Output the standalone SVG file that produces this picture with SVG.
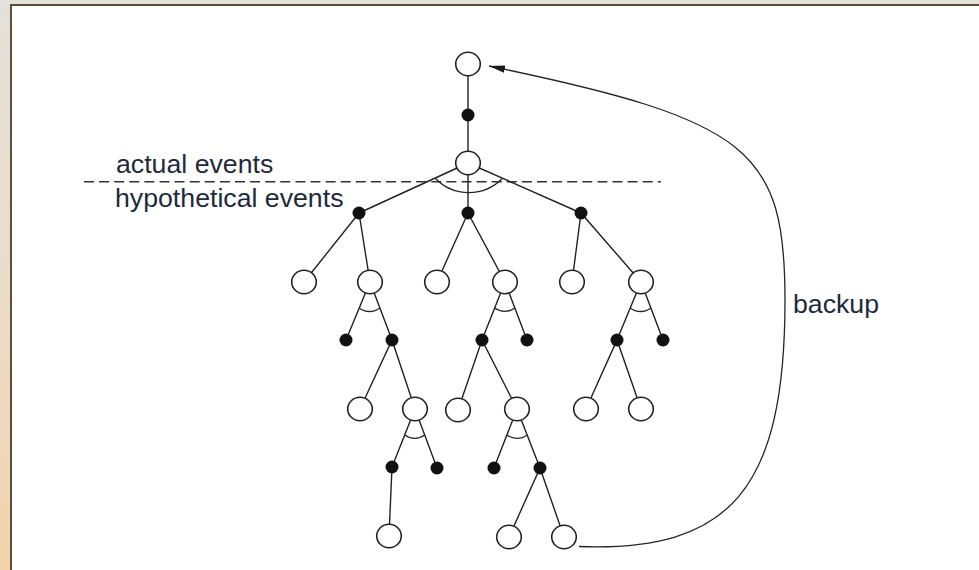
<svg xmlns="http://www.w3.org/2000/svg" width="979" height="570" viewBox="0 0 979 570">
<defs>
<linearGradient id="bg" x1="0" y1="0" x2="0" y2="1">
<stop offset="0" stop-color="#e2e1da"/>
<stop offset="0.5" stop-color="#eadccb"/>
<stop offset="1" stop-color="#f3d3ac"/>
</linearGradient>
<marker id="arr" markerUnits="userSpaceOnUse" markerWidth="18" markerHeight="10" refX="16" refY="5" orient="auto">
<path d="M0,1.3 L16,5 L0,8.7 Z" fill="#1a1a1a"/>
</marker>
<style>
.e{stroke:#222;stroke-width:1.4;fill:none}
.o{fill:#fff;stroke:#222;stroke-width:1.6}
.d{fill:#111;stroke:none}
.a{stroke:#262626;stroke-width:1.3;fill:none}
.t{font-family:"Liberation Sans",Arial,sans-serif;font-size:26.7px;fill:#1e2a3b}
</style>
</defs>
<rect x="0" y="0" width="979" height="570" fill="url(#bg)"/>
<rect x="11" y="5" width="990" height="600" fill="#fff" stroke="#5e4e36" stroke-width="2"/>
<line x1="84" y1="181.7" x2="661" y2="181.7" stroke="#333" stroke-width="1.4" stroke-dasharray="10 5.1"/>
<text class="t" x="116" y="173">actual events</text>
<text class="t" x="115" y="206.5">hypothetical events</text>
<text class="t" x="793" y="313">backup</text>
<g id="connectors">
<path class="e" d="M468,64 L468,115 L468,163"/>
<path class="e" d="M468,163 L359,213 M468,163 L468,213 M468,163 L581,213"/>
<path class="e" d="M304,282 L359,213 L370,282 M437,282 L468,213 L505,282 M572,282 L581,213 L641,282"/>
<path class="e" d="M346,340 L370,282 L392,340 M482,340 L505,282 L527,340 M617,340 L641,282 L663,340"/>
<path class="e" d="M360,409 L392,340 L415,409 M458,410 L482,340 L517,409 M586,409 L617,340 L641,409"/>
<path class="e" d="M392,467 L415,409 L437,468 M494,468 L517,409 L540,468"/>
<path class="e" d="M392,467 L389,536 M509,537 L540,468 L564,537"/>
<path class="a" d="M435.2,178.3 A46.7,46.7 0 0 0 502.5,178.3"/>
<path class="a" d="M359.2,308 A17,17 0 0 0 379.9,308"/>
<path class="a" d="M494.7,308 A17,17 0 0 0 514.9,308"/>
<path class="a" d="M630.2,308 A17,17 0 0 0 650.9,308"/>
<path class="a" d="M404.7,435 A16.8,16.8 0 0 0 424.7,435"/>
<path class="a" d="M506.9,435 A16.8,16.8 0 0 0 527.1,435"/>
<path class="a" d="M579,546.5 C730,552 785,490 785,300 C785,150 750,120 489,66" marker-end="url(#arr)"/>
</g>
<g id="n-root"><ellipse class="o" cx="468" cy="64" rx="12.3" ry="11.7"/></g>
<g id="d-root"><circle class="d" cx="468" cy="115" r="6.5"/></g>
<g id="n-b"><ellipse class="o" cx="468" cy="163" rx="12.3" ry="11.7"/></g>
<g id="d-1"><circle class="d" cx="359" cy="213" r="6.5"/></g>
<g id="d-2"><circle class="d" cx="468" cy="213" r="6.5"/></g>
<g id="d-3"><circle class="d" cx="581" cy="213" r="6.5"/></g>
<g id="n-31"><ellipse class="o" cx="304" cy="282" rx="12.3" ry="11.7"/></g>
<g id="n-32"><ellipse class="o" cx="370" cy="282" rx="12.3" ry="11.7"/></g>
<g id="n-33"><ellipse class="o" cx="437" cy="282" rx="12.3" ry="11.7"/></g>
<g id="n-34"><ellipse class="o" cx="505" cy="282" rx="12.3" ry="11.7"/></g>
<g id="n-35"><ellipse class="o" cx="572" cy="282" rx="12.3" ry="11.7"/></g>
<g id="n-36"><ellipse class="o" cx="641" cy="282" rx="12.3" ry="11.7"/></g>
<g id="d-41"><circle class="d" cx="346" cy="340" r="6.5"/></g>
<g id="d-42"><circle class="d" cx="392" cy="340" r="6.5"/></g>
<g id="d-43"><circle class="d" cx="482" cy="340" r="6.5"/></g>
<g id="d-44"><circle class="d" cx="527" cy="340" r="6.5"/></g>
<g id="d-45"><circle class="d" cx="617" cy="340" r="6.5"/></g>
<g id="d-46"><circle class="d" cx="663" cy="340" r="6.5"/></g>
<g id="n-51"><ellipse class="o" cx="360" cy="409" rx="12.3" ry="11.7"/></g>
<g id="n-52"><ellipse class="o" cx="415" cy="409" rx="12.3" ry="11.7"/></g>
<g id="n-53"><ellipse class="o" cx="458" cy="410" rx="12.3" ry="11.7"/></g>
<g id="n-54"><ellipse class="o" cx="517" cy="409" rx="12.3" ry="11.7"/></g>
<g id="n-55"><ellipse class="o" cx="586" cy="409" rx="12.3" ry="11.7"/></g>
<g id="n-56"><ellipse class="o" cx="641" cy="409" rx="12.3" ry="11.7"/></g>
<g id="d-61"><circle class="d" cx="392" cy="467" r="6.5"/></g>
<g id="d-62"><circle class="d" cx="437" cy="468" r="6.5"/></g>
<g id="d-63"><circle class="d" cx="494" cy="468" r="6.5"/></g>
<g id="d-64"><circle class="d" cx="540" cy="468" r="6.5"/></g>
<g id="n-71"><ellipse class="o" cx="389" cy="536" rx="12.3" ry="11.7"/></g>
<g id="n-72"><ellipse class="o" cx="509" cy="537" rx="12.3" ry="11.7"/></g>
<g id="n-73"><ellipse class="o" cx="564" cy="537" rx="12.3" ry="11.7"/></g>
</svg>
